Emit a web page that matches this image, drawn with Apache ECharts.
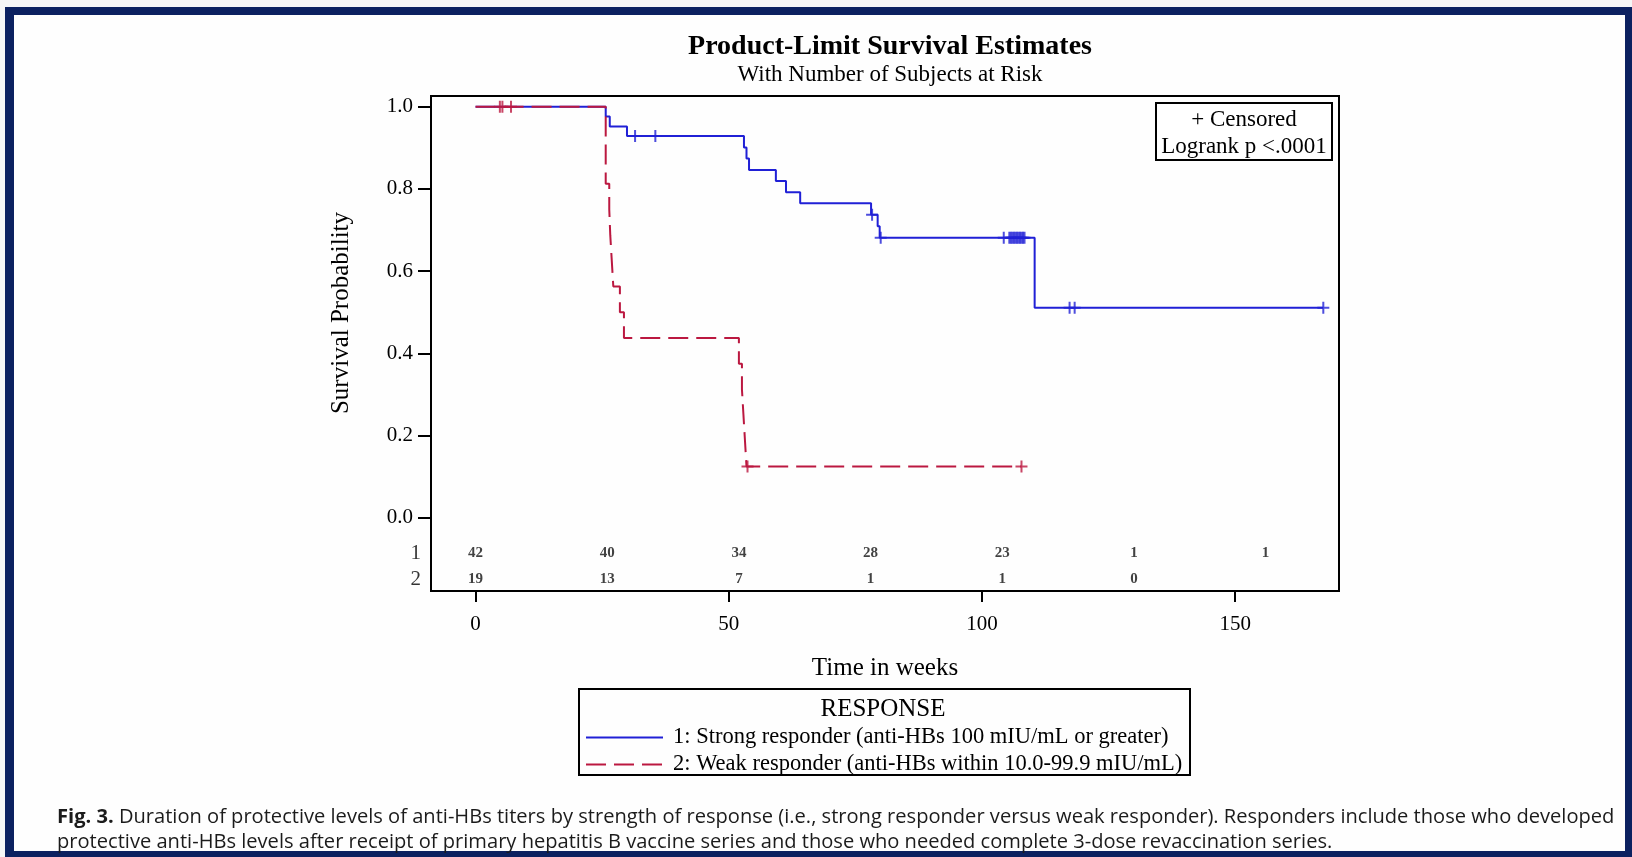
<!DOCTYPE html>
<html>
<head>
<meta charset="utf-8">
<script src="https://cdn.jsdelivr.net/npm/echarts@6/dist/echarts.min.js"></script>
<style>
  html, body { margin: 0; padding: 0; background: #f6f6f6; }
  #frame {
    position: absolute; left: 5px; top: 7px; width: 1627px; height: 850px;
    box-sizing: border-box; background: #fefefe;
    border-style: solid; border-color: #0c2160;
    border-width: 8px 7px 6px 9px;
  }
  #chart { position: absolute; left: 0; top: 0; width: 1632px; height: 857px; }
</style>
</head>
<body>
<div id="frame"></div>
<div id="chart"></div>
<script>
// Kaplan-Meier step data (time in weeks, survival probability)
const strongTime = [0, 25.7, 26.5, 29.9, 53.0, 53.5, 54.0, 59.3, 61.3, 64.1, 78.1, 79.4, 79.8, 110.4, 167.4];
const strongSurv = [1, 0.976, 0.952, 0.929, 0.901, 0.874, 0.846, 0.819, 0.792, 0.765, 0.737, 0.709, 0.681, 0.511, 0.511];
const strongCensorTime = [31.5, 35.5, 78.3, 80.0, 104.3, 105.4, 105.7, 106.0, 106.3, 106.6, 106.9, 107.2, 107.5, 107.8, 108.1, 108.4, 117.3, 118.3, 167.4];
const strongCensorSurv = [0.929, 0.929, 0.737, 0.681, 0.681, 0.681, 0.681, 0.681, 0.681, 0.681, 0.681, 0.681, 0.681, 0.681, 0.681, 0.681, 0.511, 0.511, 0.511];

const weakTime = [0, 25.7, 26.4, 26.6, 26.9, 27.2, 28.5, 29.3, 52.0, 52.6, 52.9, 53.2, 53.5, 107.8];
const weakSurv = [1, 0.8125, 0.75, 0.6875, 0.625, 0.5625, 0.5, 0.4375, 0.375, 0.3125, 0.25, 0.1875, 0.125, 0.125];
const weakCensorTime = [4.8, 5.3, 7.0, 53.7, 107.8];
const weakCensorSurv = [1, 1, 1, 0.125, 0.125];

// Number of subjects at risk
const riskTimes = [0, 26, 52, 78, 104, 130, 156];
const riskStrong = [42, 40, 34, 28, 23, 1, 1];
const riskWeak = [19, 13, 7, 1, 1, 0];

const xTicks = [0, 50, 100, 150];
const yTicks = [0, 0.2, 0.4, 0.6, 0.8, 1.0];

const groupNames = [
  '1: Strong responder (anti-HBs 100 mIU/mL or greater)',
  '2: Weak responder (anti-HBs within 10.0-99.9 mIU/mL)'
];

const BLUE = '#2020d6';
const RED = '#bb1840';
const SERIF = '"Liberation Serif", "Times New Roman", serif';
const SANS = '"Open Sans", "Noto Sans", sans-serif';

// axis extents and risk-table row positions (in y-axis units)
const X_MIN = -8.8, X_MAX = 170.5;
const Y_MIN = -0.178, Y_MAX = 1.026;
const ROW1_Y = -0.086, ROW2_Y = -0.149;

const zip = (a, b) => a.map((v, i) => [v, b[i]]);
const PLUS = 'path://M0,5L10,5M5,0L5,10';

function censorSeries(t, s, color) {
  return {
    type: 'scatter', data: zip(t, s), symbol: PLUS, symbolSize: 12,
    itemStyle: { color: 'none', borderColor: color, borderWidth: 2 },
    silent: true, z: 4
  };
}

function riskSeries(t, n, y) {
  return {
    type: 'scatter', symbolSize: 0, silent: true,
    data: t.slice(0, n.length).map((v, i) => [v, y, n[i]]),
    label: {
      show: true, position: 'inside', formatter: p => p.value[2],
      fontFamily: SERIF, fontSize: 15, fontWeight: 'bold', color: '#111'
    }
  };
}

const chart = echarts.init(document.getElementById('chart'), null, { renderer: 'canvas' });

chart.setOption({
  animation: false,
  backgroundColor: 'transparent',
  title: {
    text: 'Product-Limit Survival Estimates',
    subtext: 'With Number of Subjects at Risk',
    left: 885, top: 28, textAlign: 'center', itemGap: 2,
    textStyle: { fontFamily: SERIF, fontSize: 28, fontWeight: 'bold', color: '#000' },
    subtextStyle: { fontFamily: SERIF, fontSize: 23, color: '#000' }
  },
  grid: {
    left: 431, top: 96, right: 293, bottom: 266,
    show: true, borderColor: '#000', borderWidth: 2, backgroundColor: 'transparent'
  },
  xAxis: {
    type: 'value', min: X_MIN, max: X_MAX,
    name: 'Time in weeks', nameLocation: 'middle', nameGap: 65,
    nameTextStyle: { fontFamily: SERIF, fontSize: 25, color: '#000' },
    axisLine: { show: true, onZero: false, lineStyle: { color: '#000', width: 2 } },
    axisTick: { show: true, length: 11, customValues: xTicks, lineStyle: { color: '#000', width: 2 } },
    axisLabel: { customValues: xTicks, margin: 23, fontFamily: SERIF, fontSize: 21, color: '#000' },
    splitLine: { show: false }
  },
  yAxis: {
    type: 'value', min: Y_MIN, max: Y_MAX,
    axisLine: { show: true, onZero: false, lineStyle: { color: '#000', width: 2 } },
    axisTick: { show: true, length: 13, customValues: yTicks, lineStyle: { color: '#000', width: 2 } },
    axisLabel: {
      customValues: yTicks, margin: 18, fontFamily: SERIF, fontSize: 21, color: '#000',
      formatter: v => v.toFixed(1)
    },
    splitLine: { show: false }
  },
  legend: {
    data: groupNames, orient: 'vertical', left: 585, top: 726, padding: 0,
    itemWidth: 77, itemHeight: 14, itemGap: 4, selectedMode: false,
    itemStyle: { opacity: 0 },
    textStyle: { fontFamily: SERIF, fontSize: 22.5, lineHeight: 23, color: '#000', padding: [0, 0, 0, 5] }
  },
  series: [
    {
      name: groupNames[0], type: 'line', step: 'end', symbol: 'none',
      data: zip(strongTime, strongSurv),
      lineStyle: { color: BLUE, width: 2 }, itemStyle: { color: BLUE }, z: 2
    },
    {
      name: groupNames[1], type: 'line', step: 'end', symbol: 'none',
      data: zip(weakTime, weakSurv),
      lineStyle: { color: RED, width: 2, type: [20, 8] }, itemStyle: { color: RED }, z: 3
    },
    censorSeries(strongCensorTime, strongCensorSurv, BLUE),
    censorSeries(weakCensorTime, weakCensorSurv, RED),
    riskSeries(riskTimes, riskStrong, ROW1_Y),
    riskSeries(riskTimes, riskWeak, ROW2_Y),
    {
      // risk-table row labels to the left of the y axis
      type: 'scatter', symbolSize: 0, silent: true,
      data: [[X_MIN, ROW1_Y, '1'], [X_MIN, ROW2_Y, '2']],
      label: {
        show: true, position: 'left', distance: 10, formatter: p => p.value[2],
        fontFamily: SERIF, fontSize: 21, color: '#000'
      }
    }
  ],
  graphic: [
    // censoring / log-rank note
    { type: 'rect', shape: { x: 1156, y: 103, width: 176, height: 57 },
      style: { fill: '#fff', stroke: '#000', lineWidth: 2 }, z: 10 },
    { type: 'text', x: 1244, y: 120, z: 11,
      style: { text: '+ Censored', font: '23px ' + SERIF, fill: '#000', align: 'center', verticalAlign: 'middle' } },
    { type: 'text', x: 1244, y: 147, z: 11,
      style: { text: 'Logrank p <.0001', font: '23px ' + SERIF, fill: '#000', align: 'center', verticalAlign: 'middle' } },
    // y axis title
    { type: 'text', x: 341, y: 313, rotation: Math.PI / 2,
      style: { text: 'Survival Probability', font: '25px ' + SERIF, fill: '#000', align: 'center', verticalAlign: 'middle' } },
    // legend frame and heading
    { type: 'rect', shape: { x: 579, y: 689, width: 611, height: 86 },
      style: { fill: 'none', stroke: '#000', lineWidth: 2 } },
    { type: 'text', x: 883, y: 709,
      style: { text: 'RESPONSE', font: '25px ' + SERIF, fill: '#000', align: 'center', verticalAlign: 'middle' } },
    // figure caption
    { type: 'text', x: 57, y: 817,
      style: {
        text: '{b|Fig. 3.} Duration of protective levels of anti-HBs titers by strength of response (i.e., strong responder versus weak responder). Responders include those who developed',
        font: '20.1px ' + SANS, fill: '#1b1b1b', verticalAlign: 'middle',
        rich: { b: { font: 'bold 20.1px ' + SANS, fill: '#1b1b1b' } }
      } },
    { type: 'text', x: 57, y: 842,
      style: {
        text: 'protective anti-HBs levels after receipt of primary hepatitis B vaccine series and those who needed complete 3-dose revaccination series.',
        font: '20.1px ' + SANS, fill: '#1b1b1b', verticalAlign: 'middle'
      } }
  ]
});
</script>
</body>
</html>
